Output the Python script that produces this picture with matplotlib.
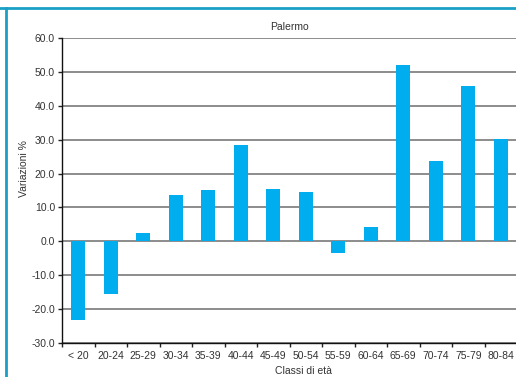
import matplotlib
matplotlib.use("Agg")
import matplotlib.pyplot as plt
from matplotlib.lines import Line2D
import numpy as np

plt.rcParams['font.family'] = ['Liberation Sans', 'DejaVu Sans']

categories = ["< 20", "20-24", "25-29", "30-34", "35-39", "40-44", "45-49",
              "50-54", "55-59", "60-64", "65-69", "70-74", "75-79", "80-84"]
values = [-23.1, -15.5, 2.4, 13.7, 15.1, 28.4, 15.4,
          14.5, -3.4, 4.2, 52.0, 23.7, 45.8, 30.1]
yticks = [-30.0, -20.0, -10.0, 0.0, 10.0, 20.0, 30.0, 40.0, 50.0, 60.0]

W, H = 516, 377
fig = plt.figure(figsize=(W / 100, H / 100), dpi=100)

# frame decoration: teal rule on top and along the left side
teal = "#1aa0c6"
fig.add_artist(Line2D([0, 1], [1 - 8 / H, 1 - 8 / H], color=teal, lw=2.0,
                      transform=fig.transFigure))
fig.add_artist(Line2D([6 / W, 6 / W], [0, 1 - 8 / H], color=teal, lw=2.0,
                      transform=fig.transFigure))

ax = fig.add_axes([62 / W, 34 / H, 455 / W, 305 / H])
x = np.arange(len(categories))
ax.bar(x, values, width=0.43, color="#00aeef", zorder=3)

ax.set_xlim(-0.5, len(categories) - 0.5)
ax.set_ylim(-30, 60)
ax.set_yticks(yticks)
ax.set_yticklabels([f"{v:.1f}" for v in yticks])
ax.yaxis.grid(True, color="#6e6e6e", lw=1.1, zorder=1)
ax.set_axisbelow(True)

# category boundaries carry tick marks, labels sit centred under the bars
ax.set_xticks(np.arange(len(categories) + 1) - 0.5)
ax.set_xticklabels([])
ax.set_xticks(x, minor=True)
ax.set_xticklabels(categories, minor=True)
ax.tick_params(axis="x", which="major", length=3, width=1, color="#222222",
               direction="out")
ax.tick_params(axis="x", which="minor", length=0, pad=6, labelsize=7.5,
               labelcolor="#333333")
ax.tick_params(axis="y", length=3, width=1, color="#222222", direction="out",
               labelsize=7.5, labelcolor="#333333", pad=2)

for s in ["top", "right"]:
    ax.spines[s].set_visible(False)
ax.spines["left"].set_color("#111111")
ax.spines["bottom"].set_color("#111111")
ax.spines["left"].set_linewidth(1.0)
ax.spines["bottom"].set_linewidth(1.0)

ax.set_title("Palermo", fontsize=7.5, color="#333333", pad=6)
fig.text(24 / W, 1 - 169 / H, "Variazioni %", rotation=90, fontsize=7.5,
         color="#333333", ha="center", va="center")
fig.text(303 / W, 1 - 371 / H, "Classi di età", fontsize=7.5,
         color="#333333", ha="center", va="center")

fig.savefig("out.png", dpi=100)
